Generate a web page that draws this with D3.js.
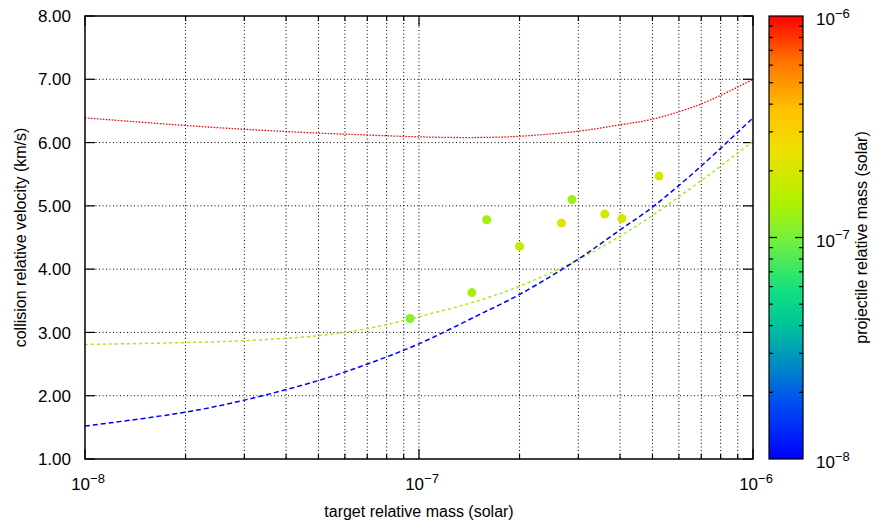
<!DOCTYPE html>
<head>
  <meta charset="utf-8">
  <title>collision relative velocity</title>
  <style>
    body { margin: 0; background: #fff; }
    svg { font-family: "Liberation Sans", Arial, sans-serif; }
  </style>
</head>
<body>
<script src="https://d3js.org/d3.v7.min.js"></script>
<script>

    // curve samples (target mass -> velocity), one per projectile mass
    var curveMass = [1e-8, 2e-8, 3e-8, 5e-8, 7e-8, 1e-7, 1.5e-7, 2e-7, 3e-7, 4e-7, 5e-7, 7e-7, 1e-6];
    var redVel   = [6.39, 6.27, 6.21, 6.15, 6.12, 6.09, 6.08, 6.10, 6.18, 6.28, 6.37, 6.61, 7.00];
    var greenVel = [2.81, 2.84, 2.87, 2.95, 3.06, 3.25, 3.50, 3.73, 4.15, 4.52, 4.85, 5.40, 6.02];
    var blueVel  = [1.52, 1.74, 1.93, 2.24, 2.50, 2.82, 3.27, 3.60, 4.16, 4.62, 4.98, 5.63, 6.39];
    var curveProj = [1e-6, 1.3e-7, 1e-8];

    // collision points
    var pointTarget = [9.4e-8, 1.44e-7, 1.595e-7, 2.0e-7, 2.67e-7, 2.87e-7, 3.6e-7, 4.05e-7, 5.23e-7];
    var pointVel    = [3.22, 3.63, 4.78, 4.36, 4.73, 5.10, 4.87, 4.80, 5.47];
    var pointProj   = [1.1e-7, 1.3e-7, 1.35e-7, 1.7e-7, 2.15e-7, 1.25e-7, 1.95e-7, 2.0e-7, 2.0e-7];

    var yTicks = [1, 2, 3, 4, 5, 6, 7, 8];
    var decades = [-8, -7, -6];

    // palette (fraction from bottom -> colour)
    var palStops  = [0, 0.13, 0.22, 0.31, 0.38, 0.49, 0.58, 0.70, 0.79, 0.90, 1];
    var palColors = ["#0000ff", "#0050f0", "#0090c0", "#00c898", "#10e080", "#70f040",
                     "#b0f000", "#f0e000", "#ffc000", "#ff7000", "#ff0000"];

    var W = 878, H = 529,
        margin = { left: 85, top: 16, right: 125, bottom: 70 },
        width = W - margin.left - margin.right,
        height = H - margin.top - margin.bottom;

    var x = d3.scaleLog().domain([1e-8, 1e-6]).range([0, width]);
    var y = d3.scaleLinear().domain([1, 8]).range([height, 0]);
    var cb = d3.scaleLog().domain([1e-8, 1e-6]).range([height, 0]);
    var pal = d3.scaleLinear().domain(palStops).range(palColors).interpolate(d3.interpolateRgb);
    function massColor(m) { return pal((Math.log10(m) + 8) / 2); }

    var svg = d3.select("body").append("svg")
        .attr("width", W).attr("height", H);
    var g = svg.append("g")
        .attr("transform", "translate(" + margin.left + "," + margin.top + ")");

    // minor log ticks
    var minorX = [];
    decades.slice(0, 2).forEach(function(e) {
      for (var k = 1; k <= 9; k++) minorX.push(k * Math.pow(10, e));
    });
    minorX.push(1e-6);

    // grid
    g.selectAll(".gx").data(minorX.filter(function(v, i) { return i > 0 && i < minorX.length - 1; }))
      .enter().append("line")
      .attr("x1", function(d) { return x(d); }).attr("x2", function(d) { return x(d); })
      .attr("y1", 0).attr("y2", height)
      .attr("stroke", "#000").attr("stroke-width", 1).attr("stroke-dasharray", "1,2.5");
    g.selectAll(".gy").data(yTicks.slice(1, -1))
      .enter().append("line")
      .attr("y1", function(d) { return y(d); }).attr("y2", function(d) { return y(d); })
      .attr("x1", 0).attr("x2", width)
      .attr("stroke", "#000").attr("stroke-width", 1).attr("stroke-dasharray", "1,2.5");

    // ticks (inward, mirrored)
    minorX.forEach(function(v) {
      var major = Math.abs(Math.log10(v) - Math.round(Math.log10(v))) < 1e-9;
      var len = major ? 10 : 5;
      g.append("line").attr("x1", x(v)).attr("x2", x(v)).attr("y1", height).attr("y2", height - len)
        .attr("stroke", "#000").attr("stroke-width", 1.2);
      g.append("line").attr("x1", x(v)).attr("x2", x(v)).attr("y1", 0).attr("y2", len)
        .attr("stroke", "#000").attr("stroke-width", 1.2);
    });
    yTicks.forEach(function(v) {
      g.append("line").attr("x1", 0).attr("x2", 10).attr("y1", y(v)).attr("y2", y(v))
        .attr("stroke", "#000").attr("stroke-width", 1.2);
      g.append("line").attr("x1", width).attr("x2", width - 10).attr("y1", y(v)).attr("y2", y(v))
        .attr("stroke", "#000").attr("stroke-width", 1.2);
    });

    // y tick labels
    g.selectAll(".yl").data(yTicks).enter().append("text")
      .attr("x", -14).attr("y", function(d) { return y(d); })
      .attr("dy", "0.36em")
      .attr("text-anchor", "end")
      .style("font-size", "17px")
      .text(function(d) { return d.toFixed(2); });

    // power-of-ten label helper
    function powLabel(sel, e, anchor) {
      var t = sel.append("text").style("font-size", "17px").attr("text-anchor", anchor);
      t.append("tspan").text("10");
      t.append("tspan").attr("dy", "-0.55em").style("font-size", "13px").text("\u2212" + (-e));
      return t;
    }
    decades.forEach(function(e) {
      powLabel(g, e, "middle").attr("x", x(Math.pow(10, e)) + 3).attr("y", height + 31);
    });

    // curves
    var line = d3.line()
      .x(function(d) { return x(d[0]); })
      .y(function(d) { return y(d[1]); })
      .curve(d3.curveCatmullRom);
    var curves = [
      { v: redVel, m: curveProj[0], dash: "1.5,1.5", w: 1.3 },
      { v: greenVel, m: curveProj[1], dash: "3,3", w: 1.5 },
      { v: blueVel, m: curveProj[2], dash: "5,3", w: 1.5 }
    ];
    curves.forEach(function(c) {
      g.append("path")
        .datum(curveMass.map(function(m, i) { return [m, c.v[i]]; }))
        .attr("fill", "none")
        .attr("stroke", massColor(c.m))
        .attr("stroke-width", c.w)
        .attr("stroke-dasharray", c.dash)
        .attr("d", line);
    });

    // points
    g.selectAll(".pt").data(pointTarget).enter().append("circle")
      .attr("cx", function(d) { return x(d); })
      .attr("cy", function(d, i) { return y(pointVel[i]); })
      .attr("r", 4.5)
      .attr("fill", function(d, i) { return massColor(pointProj[i]); });

    // border
    g.append("rect").attr("width", width).attr("height", height)
      .attr("fill", "none").attr("stroke", "#000").attr("stroke-width", 1.5);

    // axis titles
    g.append("text")
      .attr("x", width / 2).attr("y", height + 58)
      .attr("text-anchor", "middle")
      .style("font-size", "16px")
      .text("target relative mass (solar)");
    svg.append("text")
      .attr("transform", "translate(26," + (margin.top + height / 2) + ") rotate(-90)")
      .attr("text-anchor", "middle")
      .style("font-size", "16px")
      .text("collision relative velocity (km/s)");

    // colour box
    var cbX = 769, cbW = 34;
    var grad = svg.append("defs").append("linearGradient")
      .attr("id", "pal").attr("x1", 0).attr("y1", 1).attr("x2", 0).attr("y2", 0);
    palStops.forEach(function(s, i) {
      grad.append("stop").attr("offset", s).attr("stop-color", palColors[i]);
    });
    var cbg = svg.append("g").attr("transform", "translate(" + cbX + "," + margin.top + ")");
    cbg.append("rect").attr("width", cbW).attr("height", height).attr("fill", "url(#pal)");
    var cbTicks = [];
    [-8, -7].forEach(function(e) {
      for (var k = 1; k <= 9; k++) cbTicks.push(k * Math.pow(10, e));
    });
    cbTicks.forEach(function(v, i) {
      var len = (i % 9 === 0) ? 8 : 4;
      if (i === 0) return;
      cbg.append("line").attr("x1", 0).attr("x2", len).attr("y1", cb(v)).attr("y2", cb(v))
        .attr("stroke", "#000").attr("stroke-width", 1.2);
      cbg.append("line").attr("x1", cbW).attr("x2", cbW - len).attr("y1", cb(v)).attr("y2", cb(v))
        .attr("stroke", "#000").attr("stroke-width", 1.2);
    });
    cbg.append("rect").attr("width", cbW).attr("height", height)
      .attr("fill", "none").attr("stroke", "#000").attr("stroke-width", 1.2);
    decades.forEach(function(e) {
      powLabel(cbg, e, "start").attr("x", cbW + 13).attr("y", cb(Math.pow(10, e)) + 9);
    });
    svg.append("text")
      .attr("transform", "translate(867," + (margin.top + height / 2) + ") rotate(-90)")
      .attr("text-anchor", "middle")
      .style("font-size", "16px")
      .text("projectile relative mass (solar)");

</script>
</body>
